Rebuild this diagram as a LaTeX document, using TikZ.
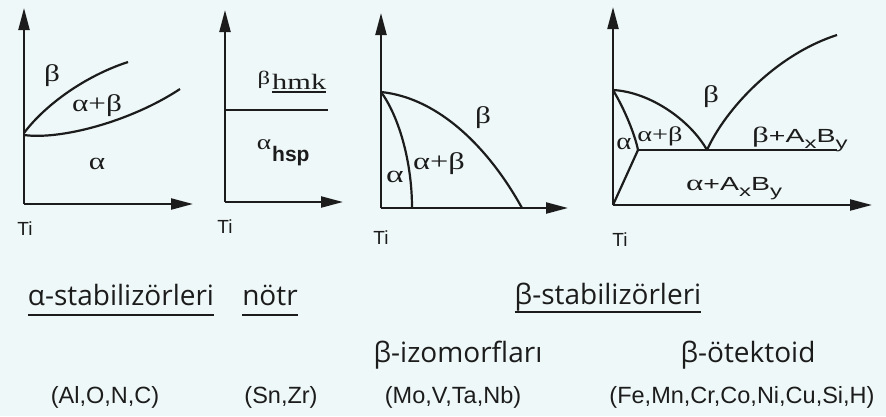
\documentclass[tikz,border=0pt]{standalone}
\usepackage{graphicx}
\usepackage{fontspec}
\setmainfont{Liberation Serif}
\newfontfamily\arial{Liberation Sans}
\newfontfamily\seg{Open Sans}
\usetikzlibrary{arrows.meta}
\definecolor{bg}{RGB}{239,248,248}
\definecolor{ink}{RGB}{28,28,28}
\tikzset{
  axis/.style={draw=ink, line width=2.2pt, -{Triangle[length=22pt,width=11pt]}},
  curve/.style={draw=ink, line width=2.2pt},
  greek/.style={font=\fontsize{24}{24}\selectfont, inner sep=0, text=ink},
  seglbl/.style={font=\seg\fontsize{28}{30}\selectfont, inner sep=0, anchor=base, text=ink},
  elem/.style={font=\arial\fontsize{23.5}{25}\selectfont, inner sep=0, anchor=base, text=ink},
  tilbl/.style={font=\arial\fontsize{19}{19}\selectfont, inner sep=0, text=ink},
  uline/.style={draw=ink, line width=2pt},
}
\newcommand{\hs}[2][1.3]{\scalebox{#1}[1]{#2}}
\newcommand{\sub}[1]{\raisebox{-6pt}{\fontsize{16}{16}\selectfont #1}}
\begin{document}
\begin{tikzpicture}[x=1pt,y=-1pt]
\fill[bg] (0,0) rectangle (886,416);
\useasboundingbox (0,0) rectangle (886,416);

% ---------- panel 1 ----------
\draw[axis] (24,204) -- (24,8);
\draw[axis] (24,204) -- (193,204);
\draw[curve] (24,133) .. controls (45,105) and (85,76) .. (128,62);
\draw[curve] (24,135) .. controls (60,140) and (130,122) .. (180,89);
\node[greek] (p1b) at (52,76) {\hs{β}};
\node[greek] (p1ab) at (97,106) {\hs{α+β}};
\node[greek] (p1a) at (97,164) {\hs{α}};
\node[tilbl] (ti1) at (25,229) {Ti};

% ---------- panel 2 ----------
\draw[axis] (225,202) -- (225,10);
\draw[axis] (225,202) -- (343,202);
\draw[curve] (225,110) -- (328,110);
\node[inner sep=0, anchor=base, font=\fontsize{19}{19}\selectfont, text=ink] (p2b) at (264,84) {\hs{β}};
\node[inner sep=0, anchor=base west, font=\fontsize{22}{22}\selectfont, text=ink] (p2hmk) at (272,89) {\hs[1.38]{hmk}};
\draw[uline] ([yshift=-3pt]p2hmk.base west) -- ([yshift=-3pt]p2hmk.base east);
\node[inner sep=0, anchor=base, font=\fontsize{21}{21}\selectfont, text=ink] (p2a) at (264,149) {\hs{α}};
\node[inner sep=0, anchor=base west, font=\arial\bfseries\fontsize{21}{21}\selectfont, text=ink] (p2hsp) at (272,161) {hsp};
\node[tilbl] (ti2) at (225,227) {Ti};

% ---------- panel 3 ----------
\draw[axis] (381,208) -- (381,13);
\draw[axis] (381,208) -- (568,208);
\draw[curve] (381,92) .. controls (440,98) and (490,150) .. (522,208);
\draw[curve] (381,92) .. controls (398,115) and (412,160) .. (412,208);
\node[greek] (p3b) at (483,118) {\hs{β}};
\node[greek] (p3ab) at (439,164) {\hs[1.35]{α+β}};
\node[greek] (p3a) at (395,177) {\hs[1.4]{α}};
\node[tilbl] (ti3) at (381,238) {Ti};

% ---------- panel 4 ----------
\draw[axis] (613,205) -- (613,7);
\draw[axis] (613,205) -- (872,205);
\draw[curve] (613,90) .. controls (650,92) and (690,120) .. (707,150);
\draw[curve] (707,150) .. controls (725,110) and (775,55) .. (837,35);
\draw[curve] (613,90) .. controls (625,110) and (635,135) .. (638,150);
\draw[curve] (638,150) -- (613,205);
\draw[curve] (638,150) -- (837,150);
\node[greek] (p4a) at (624,144) {\hs[1.2]{α}};
\node[greek, font=\fontsize{21}{21}\selectfont] (p4ab) at (660,136) {\hs[1.35]{α+β}};
\node[greek] (p4b) at (711,97) {\hs{β}};
\node[inner sep=0, anchor=base west, text=ink] (p4bab) at (752,142)
  {\hs[1.5]{\fontsize{22}{22}\selectfont β\arial\fontsize{19}{19}\selectfont+A\sub{x}B\sub{y}}};
\node[inner sep=0, anchor=base west, text=ink] (p4aab) at (686,190)
  {\hs[1.5]{\fontsize{22}{22}\selectfont α\arial\fontsize{19}{19}\selectfont+A\sub{x}B\sub{y}}};
\node[tilbl] (ti4) at (620,240) {Ti};

% ---------- bottom labels ----------
\node[seglbl] (astab) at (121,305) {α-stabilizörleri};
\draw[uline] ([yshift=-10pt]astab.base west) -- ([yshift=-10pt]astab.base east);
\node[seglbl] (notr) at (270,305) {nötr};
\draw[uline] ([yshift=-10pt]notr.base west) -- ([yshift=-10pt]notr.base east);
\node[seglbl] (bstab) at (608,304) {β-stabilizörleri};
\draw[uline] ([yshift=-8pt]bstab.base west) -- ([yshift=-8pt]bstab.base east);
\node[seglbl] (biso) at (458,362) {β-izomorfları};
\node[seglbl] (beut) at (748,362) {β-ötektoid};

\node[elem] (e1) at (105,403) {(Al,O,N,C)};
\node[elem] (e2) at (281,403) {(Sn,Zr)};
\node[elem] (e3) at (453,403) {(Mo,V,Ta,Nb)};
\node[elem] (e4) at (742,403) {(Fe,Mn,Cr,Co,Ni,Cu,Si,H)};
\end{tikzpicture}
\end{document}
